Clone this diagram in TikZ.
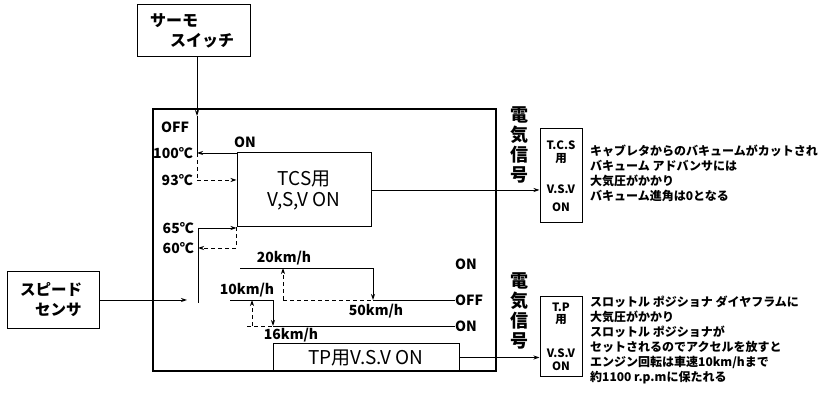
\documentclass[tikz,border=0pt]{standalone}
\usepackage{fontspec}
\setmainfont{Noto Sans CJK JP}
\usetikzlibrary{arrows.meta,positioning}

\begin{document}
\begin{tikzpicture}[x=1pt, y=-1pt, >={Stealth[length=6pt,width=4pt]},
  every node/.style={font=\bfseries},
  box/.style={draw, line width=1pt, inner sep=0pt},
  lbl/.style={inner sep=0pt, font=\bfseries\fontsize{14}{14}\selectfont},
  sig/.style={inner sep=0pt, align=center, font=\bfseries\fontsize{18}{20}\selectfont},
  vsv/.style={box, minimum width=42pt, align=center, font=\bfseries\fontsize{11.5}{14}\selectfont},
  note/.style={inner sep=0pt, anchor=north west, align=left, font=\bfseries\fontsize{12}{15}\selectfont},
  solidline/.style={line width=0.9pt},
  dashline/.style={line width=0.9pt, dash pattern=on 4pt off 3pt}]

  \useasboundingbox (0,0) rectangle (825,411);

  % Sensors
  \node[box, minimum width=113pt, minimum height=52pt, text width=87pt, align=left,
        font=\bfseries\fontsize{16}{20}\selectfont] (thermo) at (193.5,31) {サーモ\\\hspace*{20pt}スイッチ};
  \node[box, minimum width=92pt, minimum height=57pt, text width=66pt, align=left,
        font=\bfseries\fontsize{15.5}{20}\selectfont] (speed) at (53,300) {スピード\\\hspace*{15pt}センサ};

  % Control unit
  \node[box, line width=1.3pt, minimum width=343pt, minimum height=262pt] (ctrl) at (324.5,240) {};
  \node[box, minimum width=134pt, minimum height=74pt, align=center,
        font=\mdseries\fontsize{19}{21}\selectfont] (tcs) at (304,190) {TCS用\\V,S,V ON};
  \node[box, minimum width=186pt, minimum height=27pt,
        font=\mdseries\fontsize{19}{19}\selectfont] (tp) at (366,357.5) {TP用V.S.V ON};

  % Thermo switch hysteresis
  \coordinate (offtop) at (197,116);
  \coordinate (t100) at (197,153);
  \coordinate (t93) at (197,180);
  \coordinate (t65) at (198,228);
  \coordinate (t60) at (198,248);
  \coordinate (tlow) at (198,303);

  \node[lbl] (toff) at (175,127) {OFF};
  \node[lbl] (ton) at (245,142) {ON};
  \node[lbl, anchor=east] (l100) at (193,153) {100℃};
  \node[lbl, anchor=east] (l93) at (193,180) {93℃};
  \node[lbl, anchor=east] (l65) at (194,228) {65℃};
  \node[lbl, anchor=east] (l60) at (194,248) {60℃};

  \draw[->, solidline] (thermo.south -| offtop) -- (offtop);
  \draw[solidline] (offtop) -- (t100);
  \draw[<-, solidline] (t100) -- (t100 -| tcs.west);
  \draw[dashline] (t100) -- (t93);
  \draw[->, dashline] (t93) -- (t93 -| tcs.west);
  \draw[->, solidline] (t65) -- (t65 -| tcs.west);
  \draw[solidline] (t65) -- (tlow);
  \draw[->, dashline] (tcs.south west) -- (tcs.south west |- t60) -- (t60);

  % Vehicle speed hysteresis
  \coordinate (spd) at (187,300);
  \coordinate (v20a) at (240,268);
  \coordinate (v20) at (283,268);
  \coordinate (v50) at (373,268);
  \coordinate (v10a) at (230,300);
  \coordinate (v10) at (252,300);
  \coordinate (v16) at (273,300);
  \coordinate (v10b) at (247,326);

  \node[lbl, anchor=west] (son) at (455,264) {ON};
  \node[lbl, anchor=west] (soff) at (455,300) {OFF};
  \node[lbl, anchor=west] (son2) at (455,326) {ON};
  \node[lbl] (l20) at (284,258) {20km/h};
  \node[lbl] (l10) at (247,290) {10km/h};
  \node[lbl] (l50) at (376,311) {50km/h};
  \node[lbl] (l16) at (291,335) {16km/h};

  \draw[->, solidline] (speed.east) -- (spd);
  \draw[->, solidline] (v20a) -- (v50) -- (v50 |- soff);
  \draw[->, dashline] (v20 |- soff) -- (v20);
  \draw[dashline] (v20 |- soff) -- (v50 |- soff);
  \draw[solidline] (v50 |- soff) -- (soff.west);
  \draw[->, solidline] (v10a) -- (v16) -- (v16 |- son2);
  \draw[->, dashline] (v10 |- son2) -- (v10);
  \draw[dashline] (v10b) -- (v16 |- son2);
  \draw[solidline] (v16 |- son2) -- (son2.west);

  % Outputs
  \node[vsv, minimum height=94pt] (tcsv) at (561,176) {T.C.S\\[-1pt]用\\[17pt]V.S.V\\[4pt]ON};
  \node[vsv, minimum height=80pt] (tpv) at (561,337) {T.P\\[-2pt]用\\[20pt]V.S.V\\[-1pt]ON};
  \node[sig] (sig1) at (519,145) {電\\気\\信\\号};
  \node[sig] (sig2) at (519,311) {電\\気\\信\\号};

  \draw[->, solidline] (tcs.east) -- (tcs.east -| tcsv.west);
  \draw[->, solidline] (tp.east) -- (tp.east -| tpv.west);

  % Notes
  \node[note] (note1) at (590,145) {キャブレタからのバキュームがカットされ\\バキューム アドバンサには\\大気圧がかかり\\バキューム進角は0となる};
  \node[note] (note2) at (590,296) {スロットル ポジショナ ダイヤフラムに\\大気圧がかかり\\スロットル ポジショナが\\セットされるのでアクセルを放すと\\エンジン回転は車速10km/hまで\\約1100 r.p.mに保たれる};
\end{tikzpicture}
\end{document}
